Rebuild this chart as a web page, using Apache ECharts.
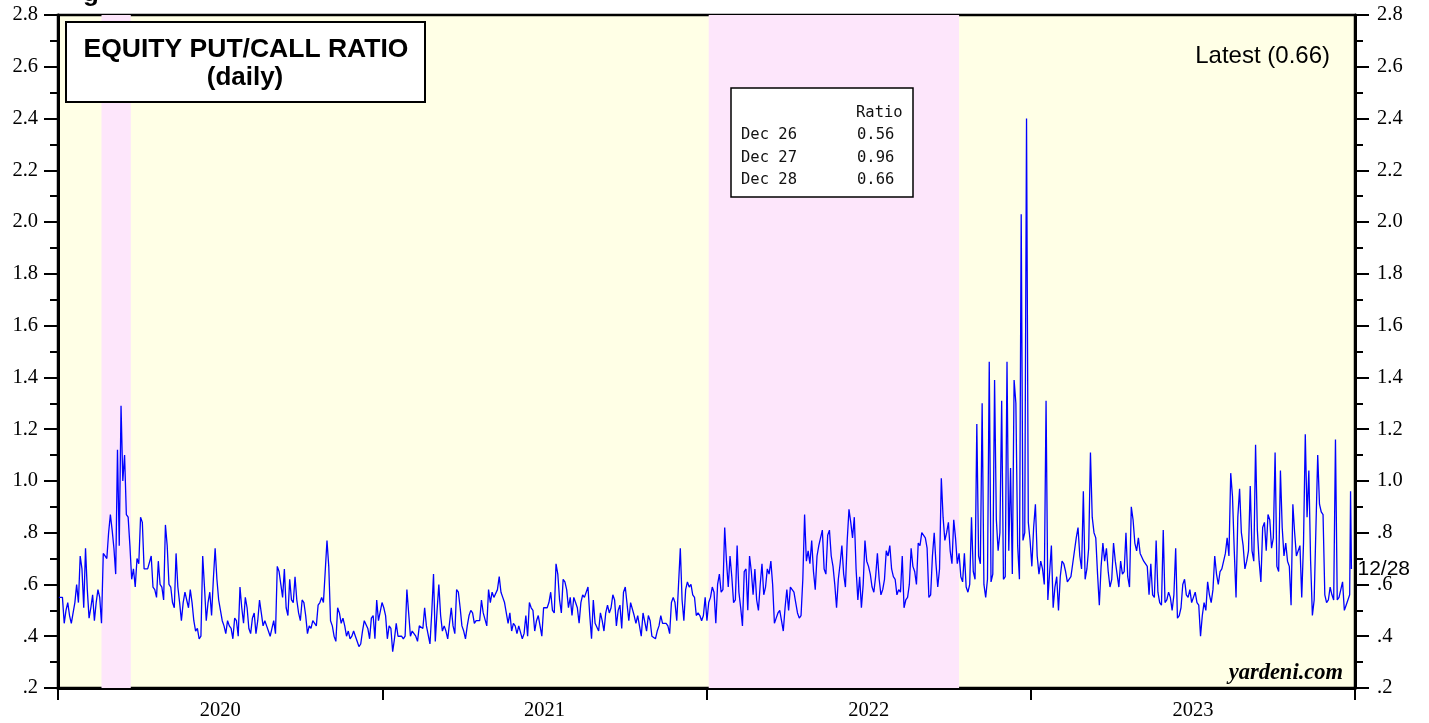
<!DOCTYPE html>
<html>
<head>
<meta charset="utf-8">
<script src="https://cdn.jsdelivr.net/npm/echarts@6/dist/echarts.min.js"></script>
<style>html,body{margin:0;padding:0;background:#fff}#c{width:1429px;height:723px}</style>
</head>
<body>
<div id="c"></div>
<script>
// ---- data ----
const yearLabels = ['2020', '2021', '2022', '2023'];
// samples every 2 calendar days starting 2020-01-02
const ratio2020 = [
0.55,0.55,0.55,0.45,0.50,0.53,0.48,0.45,0.49,0.53,
0.60,0.53,0.71,0.66,0.51,0.74,0.58,0.47,0.51,0.56,
0.46,0.53,0.58,0.55,0.45,0.72,0.71,0.70,0.80,0.87,
0.81,0.74,0.64,1.12,0.75,1.29,1.00,1.10,0.87,0.86,
0.75,0.62,0.66,0.59,0.70,0.68,0.86,0.84,0.66,0.66,
0.66,0.66,0.71,0.59,0.58,0.55,0.69,0.60,0.59,0.54,
0.83,0.75,0.60,0.59,0.53,0.51,0.72,0.59,0.53,0.46,
0.53,0.57,0.54,0.51,
0.58,0.53,0.46,0.42,0.43,0.39,0.40,0.71,0.59,0.46,
0.53,0.57,0.48,0.62,0.74,0.62,0.54,0.50,0.46,0.44,
0.41,0.46,0.44,0.43,0.39,0.47,0.46,0.40,0.59,0.51,
0.45,0.55,0.51,0.43,0.41,0.47,0.49,0.41,0.46,0.54,
0.49,0.44,0.46,0.44,0.42,0.40,0.43,0.46,0.41,0.67,
0.65,0.60,0.55,0.66,0.51,0.48,0.62,0.54,0.53,0.63,
0.54,0.49,0.46,0.54,0.53,0.48,0.41,0.44,0.43,0.46,
0.46,0.44,0.52,0.53,
0.55,0.53,0.65,0.77,0.67,0.46,0.44,0.40,0.38,0.51,
0.49,0.45,0.47,0.44,0.40,0.42,0.39,0.40,0.42,0.40,
0.40,0.36,0.37,0.42,0.46,0.46,0.43,0.39,0.47,0.48,
0.39,0.54,0.46,0.46,0.53
];
const ratio2021 = [
0.51,0.48,0.39,0.44,0.43,
0.34,0.39,0.45,0.40,0.40,0.40,0.39,0.40,0.58,0.49,
0.40,0.42,0.41,0.40,0.38,0.44,0.44,0.43,0.51,0.44,
0.44,0.37,0.49,0.64,0.38,0.50,0.60,0.48,0.42,0.44,
0.42,0.39,0.45,
0.51,0.44,0.41,0.58,0.57,0.51,0.44,0.42,0.39,0.44,
0.48,0.50,0.49,0.45,0.46,0.46,0.46,0.54,0.49,0.49,
0.44,0.58,0.53,0.57,0.55,0.55,0.58,0.63,0.57,0.55,
0.53,0.53,0.45,0.49,0.42,0.45,0.44,0.41,0.44,0.44,
0.39,0.41,0.48,0.40,0.53,0.51,0.50,0.42,0.46,0.48,
0.44,0.40,0.51,0.51,0.51,0.53,0.57,0.50,0.49,0.68,
0.64,0.54,0.49,0.62,0.61,0.58,0.51,0.55,0.48,0.55,
0.53,0.51,0.45,
0.53,0.56,0.55,0.55,0.59,0.48,0.39,0.54,0.45,0.45,
0.42,0.49,0.46,0.42,0.49,0.52,0.49,0.51,0.56,0.54,
0.44,0.50,0.52,0.43,0.57,0.59,0.59,0.46,0.53,0.53,
0.48,0.45,0.48,0.44,0.40,0.49,0.49,0.42,0.48,0.46,
0.40,0.40,0.39,0.42,0.44,0.48,0.45,0.45,0.45,0.44,
0.41,0.53,0.55,0.53,0.46,0.60,0.74,0.54,0.46,0.58,
0.61,0.59,0.60,0.56,0.55,0.48,0.49,0.48,0.46,0.48,
0.55,0.46
];
const ratio2022 = [
0.53,
0.55,0.59,0.57,0.45,0.60,0.64,0.57,0.58,0.82,0.69,
0.59,0.71,0.63,0.53,0.54,0.75,0.57,0.51,0.44,0.65,
0.66,0.50,0.71,0.65,0.56,0.66,0.54,0.50,0.60,0.68,
0.56,0.59,0.66,0.64,0.69,0.60,0.45,0.47,0.49,0.50,
0.46,0.42,0.51,0.58,0.50,0.59,0.59,0.57,0.53,0.49,
0.47,0.48,0.62,0.87,0.69,0.73,0.68,0.77,0.65,0.58,
0.71,0.75,0.75,0.81,0.66,0.64,0.79,0.81,0.71,0.67,
0.60,0.51,0.62,
0.68,0.75,0.64,0.59,0.77,0.89,0.84,0.78,0.86,0.66,
0.54,0.63,0.51,0.60,0.77,0.69,0.67,0.64,0.59,0.57,
0.63,0.72,0.62,0.56,0.58,0.62,0.73,0.71,0.75,0.66,
0.63,0.62,0.56,0.58,0.57,0.71,0.51,0.54,0.55,0.60,
0.74,0.67,0.65,0.60,0.76,0.75,0.80,0.80,0.78,0.74,
0.55,0.56,0.71,0.80,0.68,0.59,0.66,1.01,0.86,0.77,
0.80,0.84,0.73,0.68,0.85,0.78,0.68,0.72,0.63,0.61,
0.72,0.59,0.57,
0.60,0.86,0.65,0.62,1.22,0.71,0.68,1.30,0.60,0.55,
0.62,1.46,0.61,0.64,1.39,0.85,0.73,0.80,1.31,0.62,
0.63,1.46,0.73,1.05,0.64,1.39,1.30,0.75,0.62,2.03,
0.77,0.80,2.40,0.84,0.77
];
const ratio2023 = [
0.67,0.82,0.91,0.71,0.64,0.69,0.66,0.60,1.31,0.54,
0.54,0.75,0.51,0.59,0.63,0.50,0.63,0.69,0.68,0.65,0.61,
0.61,0.63,0.68,0.68,0.78,0.82,0.71,0.66,0.96,0.62,
0.66,0.74,1.11,0.86,0.80,0.78,0.64,0.52,0.67,0.76,
0.69,0.74,0.65,0.59,0.62,0.76,0.69,0.64,0.59,0.69,
0.64,0.65,0.80,0.63,0.59,0.90,0.85,0.76,0.73,0.78,
0.72,0.72,0.69,0.69,0.67,0.56,0.68,0.56,0.55,0.77,
0.57,0.53,0.52,0.81,0.53,0.54,0.57,0.55,0.50,0.56,
0.74,0.47,0.48,0.51,0.60,0.62,0.56,0.55,0.58,0.53,
0.55,0.57,0.53,0.52,0.40,0.48,0.53,0.50,0.61,
0.56,0.53,0.58,0.71,0.64,0.60,0.65,0.66,0.66,0.72,
0.78,0.71,1.03,0.94,0.73,0.55,0.86,0.97,0.80,0.75,
0.66,0.69,0.73,0.98,0.73,0.69,1.14,0.81,0.69,0.61,
0.82,0.84,0.73,0.87,0.85,0.74,0.78,1.11,0.67,0.65,
1.04,0.82,0.71,0.76,0.69,0.67,0.52,0.91,0.80,0.71,
0.73,0.75,0.55,0.76,1.18,0.86,1.04,0.69,0.48,0.54,
0.54,1.10,0.91,0.88,0.87,0.56,0.53,0.54,0.59,0.56,
0.54,1.16,0.54,0.55,0.58,0.61,0.50,0.52,0.54
];
// last three daily readings (table in the chart)
const lastDays = [[2023, 11, 26], [2023, 11, 27], [2023, 11, 28]];
const lastDayLabels = ['Dec 26', 'Dec 27', 'Dec 28'];
const lastDayValues = [0.56, 0.96, 0.66];
const endTag = '12/28';
// shaded periods (bear markets)
const bands = [
  [[2020, 1, 19], [2020, 2, 23]],
  [[2022, 0, 3], [2022, 9, 12]]
];

// ---- build ----
const DAY = 86400000;
const t0 = Date.UTC(2020, 0, 2);
const samples = [].concat(ratio2020, ratio2021, ratio2022, ratio2023);
const seriesData = samples.map((v, i) => [t0 + i * 2 * DAY, v])
  .concat(lastDays.map((d, k) => [Date.UTC(d[0], d[1], d[2]), lastDayValues[k]]));

const fmtY = v => { const s = v.toFixed(1); return s.charAt(0) === '0' ? s.slice(1) : s; };
function yAx(pos, margin) {
  return {
    type: 'value', position: pos, min: 0.2, max: 2.8, interval: 0.2,
    axisLine: { show: true, lineStyle: { color: '#000', width: 3 } },
    axisTick: { show: true, length: 14, lineStyle: { color: '#000', width: 2 } },
    minorTick: { show: true, splitNumber: 2, length: 8, lineStyle: { color: '#000', width: 2 } },
    splitLine: { show: false },
    axisLabel: { color: '#000', fontFamily: 'Liberation Serif', fontSize: 20.5, margin: margin,
      formatter: fmtY, showMinLabel: true, showMaxLabel: true }
  };
}

const chart = echarts.init(document.getElementById('c'));
const tableX = 731, tableY = 88;
const graphics = [
  { type: 'text', z: 100, style: { text: 'g', x: 83, y: -6, font: 'bold 26px "Liberation Sans"', fill: '#000', textAlign: 'left', textVerticalAlign: 'middle' } },
  { type: 'rect', z: 100, shape: { x: 66, y: 22, width: 359, height: 80 }, style: { fill: '#fff', stroke: '#000', lineWidth: 2 } },
  { type: 'text', z: 101, style: { text: 'EQUITY PUT/CALL RATIO', x: 246, y: 50, font: 'bold 26.5px "Liberation Sans"', fill: '#000', textAlign: 'center', textVerticalAlign: 'middle' } },
  { type: 'text', z: 101, style: { text: '(daily)', x: 245, y: 78, font: 'bold 26px "Liberation Sans"', fill: '#000', textAlign: 'center', textVerticalAlign: 'middle' } },
  { type: 'text', z: 101, style: { text: 'Latest (' + lastDayValues[lastDayValues.length - 1].toFixed(2) + ')', x: 1330, y: 56, font: '24px "Liberation Sans"', fill: '#000', textAlign: 'right', textVerticalAlign: 'middle' } },
  { type: 'rect', z: 100, shape: { x: tableX, y: tableY, width: 182, height: 109 }, style: { fill: '#fff', stroke: '#000', lineWidth: 1.5 } },
  { type: 'text', z: 101, style: { text: 'Ratio', x: 856, y: 113, font: '15.5px "DejaVu Sans Mono"', fill: '#111', textAlign: 'left', textVerticalAlign: 'middle' } },
  { type: 'text', z: 101, style: { text: 'yardeni.com', x: 1343, y: 673, font: 'italic bold 22.5px "Liberation Serif"', fill: '#000', textAlign: 'right', textVerticalAlign: 'middle' } }
];
lastDayLabels.forEach((lab, k) => {
  const y = 135 + k * 22.5;
  graphics.push({ type: 'text', z: 101, style: { text: lab, x: 741, y: y, font: '15.5px "DejaVu Sans Mono"', fill: '#111', textAlign: 'left', textVerticalAlign: 'middle' } });
  graphics.push({ type: 'text', z: 101, style: { text: lastDayValues[k].toFixed(2), x: 857, y: y, font: '15.5px "DejaVu Sans Mono"', fill: '#111', textAlign: 'left', textVerticalAlign: 'middle' } });
});

chart.setOption({
  animation: false,
  backgroundColor: '#ffffff',
  grid: { left: 58, right: 74, top: 15, bottom: 35, show: true, backgroundColor: '#FFFFE6', borderColor: '#000', borderWidth: 2.5 },
  xAxis: [
    { type: 'time', min: Date.UTC(2020, 0, 1), max: Date.UTC(2024, 0, 1), show: false },
    { type: 'category', position: 'bottom', data: yearLabels, boundaryGap: true,
      axisLine: { show: true, lineStyle: { color: '#000', width: 3 } },
      axisTick: { show: true, length: 12, alignWithLabel: false, lineStyle: { color: '#000', width: 2 } },
      splitLine: { show: false },
      axisLabel: { color: '#000', fontFamily: 'Liberation Serif', fontSize: 20.5, margin: 12 } }
  ],
  yAxis: [yAx('left', 20), yAx('right', 22)],
  graphic: graphics,
  series: [{
    type: 'line', xAxisIndex: 0, yAxisIndex: 0,
    data: seriesData, showSymbol: false, symbol: 'none', sampling: null,
    lineStyle: { color: '#0000FF', width: 1.3 },
    endLabel: { show: true, formatter: endTag, color: '#000', fontFamily: 'Liberation Sans', fontSize: 21, distance: 6 },
    markArea: {
      silent: true,
      itemStyle: { color: '#FDE6FB', opacity: 1 },
      label: { show: false },
      data: bands.map(b => [{ xAxis: Date.UTC(b[0][0], b[0][1], b[0][2]) }, { xAxis: Date.UTC(b[1][0], b[1][1], b[1][2]) }])
    }
  }]
});
</script>
</body>
</html>
